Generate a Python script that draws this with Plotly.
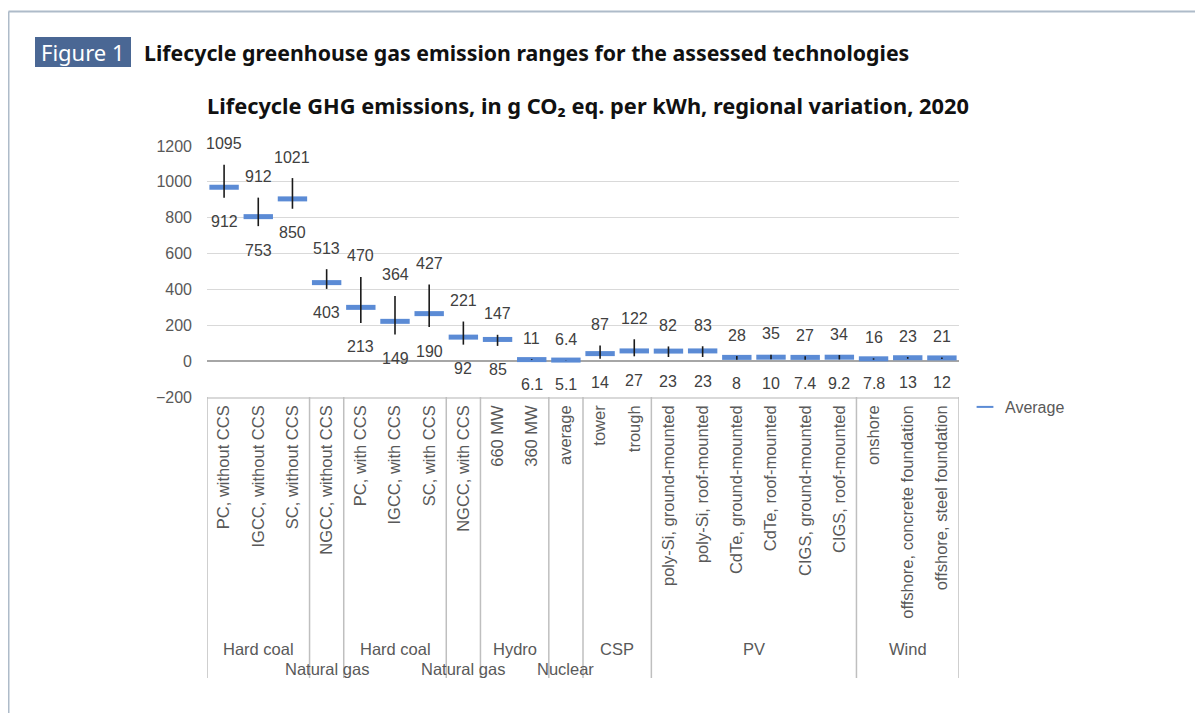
import plotly.graph_objects as go

# ---------------- data ----------------
groups = ["Hard coal", "Hard coal", "Hard coal", "Natural gas",
          "Hard coal", "Hard coal", "Hard coal", "Natural gas",
          "Hydro", "Hydro", "Nuclear", "CSP", "CSP",
          "PV", "PV", "PV", "PV", "PV", "PV",
          "Wind", "Wind", "Wind"]
categories = ["PC, without CCS", "IGCC, without CCS", "SC, without CCS", "NGCC, without CCS",
              "PC, with CCS", "IGCC, with CCS", "SC, with CCS", "NGCC, with CCS",
              "660 MW", "360 MW", "average", "tower", "trough",
              "poly-Si, ground-mounted", "poly-Si, roof-mounted",
              "CdTe, ground-mounted", "CdTe, roof-mounted",
              "CIGS, ground-mounted", "CIGS, roof-mounted",
              "onshore", "offshore, concrete foundation", "offshore, steel foundation"]
max_values = [1095, 912, 1021, 513, 470, 364, 427, 221, 147, 11, 6.4, 87, 122,
              82, 83, 28, 35, 27, 34, 16, 23, 21]
min_values = [912, 753, 850, 403, 213, 149, 190, 92, 85, 6.1, 5.1, 14, 27,
              23, 23, 8, 10, 7.4, 9.2, 7.8, 13, 12]
avg_values = [970, 806, 905, 438, 300, 222, 265, 134, 121, 8.6, 6.0, 42, 57,
              56, 57, 21, 22, 21, 22, 13, 19, 18]
max_labels = ["1095", "912", "1021", "513", "470", "364", "427", "221", "147", "11", "6.4",
              "87", "122", "82", "83", "28", "35", "27", "34", "16", "23", "21"]
min_labels = ["912", "753", "850", "403", "213", "149", "190", "92", "85", "6.1", "5.1",
              "14", "27", "23", "23", "8", "10", "7.4", "9.2", "7.8", "13", "12"]
y_ticks = [-200, 0, 200, 400, 600, 800, 1000, 1200]

header_tag = "Figure 1"
header_text = "Lifecycle greenhouse gas emission ranges for the assessed technologies"
chart_title = "Lifecycle GHG emissions, in g CO₂ eq. per kWh, regional variation, 2020"

# ---------------- layout geometry (page pixel coordinates) ----------------
OFF = 8  # page body margin
FIG_W, FIG_H = 1203 - OFF, 713 - OFF
L, R, T, B = 207, 959, 146, 397
PW, PH = R - L, B - T


def px_x(px):
    return (px - L) / PW


def px_y(py):
    return (B - py) / PH


AXIS_FONT = "Liberation Sans, Arial, sans-serif"
HEAD_FONT = "Noto Sans, sans-serif"
GREY_TXT = "#595959"
BLUE = "#5B8BD5"

fig = go.Figure()

# average markers
fig.add_trace(go.Scatter(
    x=categories, y=avg_values, mode="markers", name="Average",
    marker=dict(symbol="line-ew", size=21, color=BLUE,
                line=dict(color=BLUE, width=5)),
    hoverinfo="skip",
))

# range lines (min to max), drawn over the averages
rx, ry = [], []
for c, lo, hi in zip(categories, min_values, max_values):
    rx += [c, c, None]
    ry += [lo, hi, None]
fig.add_trace(go.Scatter(
    x=rx, y=ry, mode="lines", showlegend=False,
    line=dict(color="#1a1a1a", width=1.6), hoverinfo="skip",
))

annotations = []
# data labels
for c, hi, lo, hl, ll in zip(categories, max_values, min_values, max_labels, min_labels):
    annotations.append(dict(x=c, y=hi, xref="x", yref="y", text=hl, showarrow=False,
                            yshift=21, font=dict(family=AXIS_FONT, size=16, color="#404040")))
    annotations.append(dict(x=c, y=lo, xref="x", yref="y", text=ll, showarrow=False,
                            yshift=-24, font=dict(family=AXIS_FONT, size=16, color="#404040")))

# group labels and dividers
shapes = []
runs = []
start = 0
for i in range(1, len(groups) + 1):
    if i == len(groups) or groups[i] != groups[start]:
        runs.append((groups[start], start, i - 1))
        start = i
div_top, div_bot = px_y(397), px_y(678)
for k, (g, s, e) in enumerate(runs):
    narrow = (e - s) == 0 and g in ("Natural gas", "Nuclear")
    annotations.append(dict(x=(s + e) / 2, y=px_y(669 if narrow else 649), xref="x", yref="paper",
                            text=g, showarrow=False, yanchor="middle",
                            font=dict(family=AXIS_FONT, size=16.5, color=GREY_TXT)))
    shapes.append(dict(type="line", xref="x", yref="paper", x0=s - 0.5, x1=s - 0.5,
                       y0=div_top, y1=div_bot, line=dict(color="#BFBFBF", width=1.5)))
shapes.append(dict(type="line", xref="x", yref="paper", x0=len(groups) - 0.5, x1=len(groups) - 0.5,
                   y0=div_top, y1=div_bot, line=dict(color="#BFBFBF", width=1.5)))

# frame border
shapes.append(dict(type="line", xref="paper", yref="paper", x0=px_x(8.5), x1=px_x(1210),
                   y0=px_y(11.5), y1=px_y(11.5), line=dict(color="#AEBBC9", width=2)))
shapes.append(dict(type="line", xref="paper", yref="paper", x0=px_x(8.5), x1=px_x(8.5),
                   y0=px_y(11.5), y1=px_y(720), line=dict(color="#AEBBC9", width=2)))

# Figure 1 tag box
shapes.append(dict(type="rect", xref="paper", yref="paper", x0=px_x(35), x1=px_x(131),
                   y0=px_y(67), y1=px_y(37), fillcolor="#4A6794", line=dict(width=0)))
annotations.append(dict(x=px_x(83), y=px_y(52), xref="paper", yref="paper", text=header_tag,
                        showarrow=False, xanchor="center", yanchor="middle",
                        font=dict(family=HEAD_FONT, size=22, color="white")))
annotations.append(dict(x=px_x(142), y=px_y(52), xref="paper", yref="paper",
                        text="<b>" + header_text + "</b>",
                        showarrow=False, xanchor="left", yanchor="middle",
                        font=dict(family=HEAD_FONT, size=21.3, color="#111111")))
annotations.append(dict(x=px_x(588), y=px_y(106), xref="paper", yref="paper",
                        text="<b>" + chart_title + "</b>",
                        showarrow=False, xanchor="center", yanchor="middle",
                        font=dict(family=HEAD_FONT, size=21.8, color="#111111")))

fig.update_layout(
    width=FIG_W, height=FIG_H,
    margin=dict(l=L - OFF, r=FIG_W - (R - OFF), t=T - OFF, b=FIG_H - (B - OFF), autoexpand=False),
    paper_bgcolor="white", plot_bgcolor="white",
    showlegend=True,
    legend=dict(x=px_x(965), y=px_y(390), xanchor="left", yanchor="top",
                itemsizing="constant", bgcolor="rgba(0,0,0,0)",
                font=dict(family=AXIS_FONT, size=16, color=GREY_TXT)),
    annotations=annotations,
    shapes=shapes,
    xaxis=dict(type="category", categoryorder="array", categoryarray=categories,
               range=[-0.5, len(categories) - 0.5],
               tickangle=-90, ticks="", showgrid=False, zeroline=False,
               showline=True, linecolor="#D9D9D9", linewidth=1.5,
               tickfont=dict(family=AXIS_FONT, size=16.5, color=GREY_TXT)),
    yaxis=dict(range=[-200, 1200], tickvals=y_ticks, ticks="",
               showgrid=True, gridcolor="#D9D9D9", gridwidth=1,
               zeroline=True, zerolinecolor="#A6A6A6", zerolinewidth=1.5,
               showline=False, ticklabelstandoff=14,
               tickfont=dict(family=AXIS_FONT, size=16, color=GREY_TXT)),
)

fig.write_html("out.html")
